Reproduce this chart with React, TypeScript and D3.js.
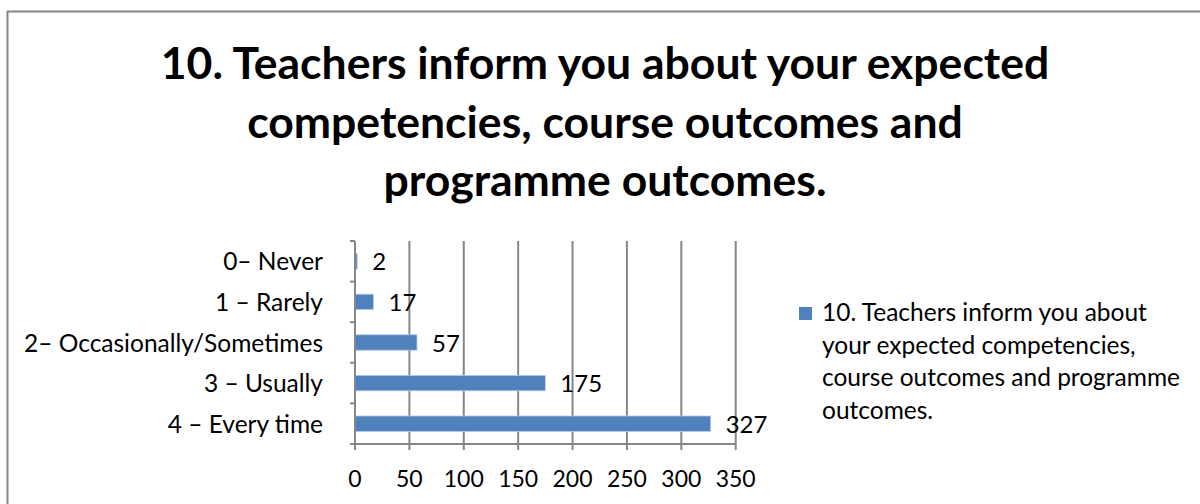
import React, { useEffect, useRef } from "react";
import * as d3 from "d3";

const categories = [
  "0– Never",
  "1 – Rarely",
  "2– Occasionally/Sometimes",
  "3 – Usually",
  "4 – Every time",
];
const counts = [2, 17, 57, 175, 327];
const xTicks = [0, 50, 100, 150, 200, 250, 300, 350];
const titleLines = [
  "10. Teachers inform you about your expected",
  "competencies, course outcomes and",
  "programme outcomes.",
];
const legendLines = [
  "10. Teachers inform you about",
  "your expected competencies,",
  "course outcomes and programme",
  "outcomes.",
];

const FONT = "Lato, 'Open Sans', sans-serif";

const App: React.FC = () => {
  const svgRef = useRef<SVGSVGElement>(null);

  useEffect(() => {
    if (!svgRef.current) return;
    const svg = d3.select(svgRef.current);
    svg.selectAll("*").remove();

    const width = 1200;
    const height = 504;

    // chart frame
    svg.append("rect")
      .attr("x", 7.5)
      .attr("y", 11.5)
      .attr("width", width)
      .attr("height", height)
      .attr("fill", "#fff")
      .attr("stroke", "#868686")
      .attr("stroke-width", 2);

    // title
    svg.append("g")
      .selectAll("text")
      .data(titleLines)
      .enter().append("text")
      .attr("x", 605)
      .attr("y", (d, i) => 79 + i * 58.5)
      .attr("text-anchor", "middle")
      .attr("font-family", FONT)
      .attr("font-weight", "bold")
      .attr("font-size", 44.5)
      .attr("fill", "#000")
      .text(d => d);

    const plot = { left: 355, right: 735.7, top: 241, bottom: 444 };

    const x = d3.scaleLinear()
      .domain([0, 350])
      .range([plot.left, plot.right]);

    const y = d3.scaleBand()
      .domain(categories)
      .range([plot.top, plot.bottom])
      .paddingInner(0.62)
      .paddingOuter(0.31);

    // gridlines
    svg.append("g")
      .selectAll("line")
      .data(xTicks.slice(1))
      .enter().append("line")
      .attr("x1", d => x(d))
      .attr("x2", d => x(d))
      .attr("y1", plot.top)
      .attr("y2", plot.bottom)
      .attr("stroke", "#868686")
      .attr("stroke-width", 2);

    // bars
    svg.append("g")
      .selectAll("rect")
      .data(counts)
      .enter().append("rect")
      .attr("x", x(0))
      .attr("y", (d, i) => y(categories[i])!)
      .attr("width", d => x(d) - x(0))
      .attr("height", y.bandwidth())
      .attr("fill", "#4f81bd")
      .attr("stroke", "#b9cde5")
      .attr("stroke-width", 0.8);

    // value labels
    svg.append("g")
      .selectAll("text")
      .data(counts)
      .enter().append("text")
      .attr("x", d => x(d) + 15)
      .attr("y", (d, i) => y(categories[i])! + y.bandwidth() / 2 + 9)
      .attr("font-family", FONT)
      .attr("font-size", 24)
      .attr("fill", "#000")
      .text(d => d);

    // y axis
    const yAxis = svg.append("g");
    yAxis.append("line")
      .attr("x1", plot.left)
      .attr("x2", plot.left)
      .attr("y1", plot.top)
      .attr("y2", plot.bottom)
      .attr("stroke", "#868686")
      .attr("stroke-width", 2);
    const step = (plot.bottom - plot.top) / categories.length;
    yAxis.selectAll(".tick")
      .data(d3.range(categories.length + 1))
      .enter().append("line")
      .attr("x1", plot.left - 5)
      .attr("x2", plot.left)
      .attr("y1", d => plot.top + d * step)
      .attr("y2", d => plot.top + d * step)
      .attr("stroke", "#868686")
      .attr("stroke-width", 2);
    yAxis.selectAll("text")
      .data(categories)
      .enter().append("text")
      .attr("x", 323)
      .attr("y", d => y(d)! + y.bandwidth() / 2 + 9)
      .attr("text-anchor", "end")
      .attr("font-family", FONT)
      .attr("font-size", 24.5)
      .attr("fill", "#000")
      .text(d => d);

    // x axis
    const xAxis = svg.append("g");
    xAxis.append("line")
      .attr("x1", plot.left - 5)
      .attr("x2", plot.right)
      .attr("y1", plot.bottom)
      .attr("y2", plot.bottom)
      .attr("stroke", "#868686")
      .attr("stroke-width", 2);
    xAxis.selectAll(".tick")
      .data(xTicks)
      .enter().append("line")
      .attr("x1", d => x(d))
      .attr("x2", d => x(d))
      .attr("y1", plot.bottom)
      .attr("y2", plot.bottom + 6)
      .attr("stroke", "#868686")
      .attr("stroke-width", 2);
    xAxis.selectAll("text")
      .data(xTicks)
      .enter().append("text")
      .attr("x", d => x(d))
      .attr("y", 487)
      .attr("text-anchor", "middle")
      .attr("font-family", FONT)
      .attr("font-size", 23)
      .attr("fill", "#000")
      .text(d => d);

    // legend
    const legend = svg.append("g");
    legend.append("rect")
      .attr("x", 799)
      .attr("y", 307)
      .attr("width", 13)
      .attr("height", 13)
      .attr("fill", "#4f81bd");
    legend.selectAll("text")
      .data(legendLines)
      .enter().append("text")
      .attr("x", 822)
      .attr("y", (d, i) => 321 + i * 32.5)
      .attr("font-family", FONT)
      .attr("font-size", 24.5)
      .attr("fill", "#000")
      .text(d => d);
  }, []);

  return (
    <svg
      ref={svgRef}
      width={1200}
      height={504}
      style={{ position: "absolute", left: 0, top: 0, background: "#fff" }}
    />
  );
};

export default App;
